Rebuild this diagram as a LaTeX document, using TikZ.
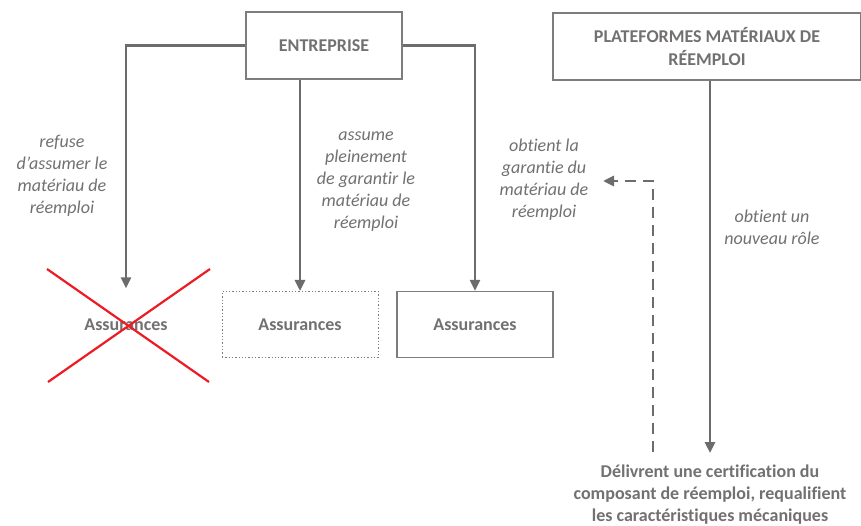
\documentclass[tikz,border=0pt]{standalone}
\usepackage{fontspec}
\setmainfont{Carlito}[Ligatures=NoCommon]
\usetikzlibrary{arrows.meta,positioning}

\definecolor{cline}{RGB}{108,108,108}
\definecolor{ctext}{RGB}{115,112,112}
\definecolor{cbox}{RGB}{125,125,125}
\definecolor{ccross}{RGB}{237,28,36}

\newcommand{\boldtext}{\fontsize{18}{22.5}\selectfont\bfseries}
\newcommand{\labeltext}{\fontsize{18}{22}\selectfont\itshape}

\tikzset{
  actor/.style={draw=cbox,line width=1.3pt,text=ctext,font=\boldtext,
    align=center,inner sep=0pt},
  insurer/.style={actor,minimum width=156pt,minimum height=66pt},
  link/.style={draw=cline,line width=2.6pt,
    -{Triangle[width=10pt,length=11pt]}},
  caption/.style={text=ctext,font=\labeltext,align=center,inner sep=0pt}
}

\begin{document}
\begin{tikzpicture}[x=1pt,y=-1pt]
  \useasboundingbox[fill=white] (0,0) rectangle (861,526);

  % acteurs du haut
  \node[actor,minimum width=156pt,minimum height=67pt] (ent) at (324,45.5) {ENTREPRISE};
  \node[actor,minimum width=308pt,minimum height=67pt] (plat) at (707,46.5)
    {PLATEFORMES MAT\'ERIAUX DE\\R\'EEMPLOI};

  % assurances
  \node[insurer,draw=none] (ass1) at (126,325) {Assurances};
  \node[insurer,dotted,line width=1pt] (ass2) at (300,324.5) {Assurances};
  \node[insurer] (ass3) at (475,324.5) {Assurances};
  \draw[ccross,line width=2.2pt] (47,269) -- (209,382) (48,382) -- (210,269);

  % certification
  \node[text=ctext,font=\fontsize{18}{22}\selectfont\bfseries,align=center,
    anchor=north,inner sep=0pt] (cert) at (710,464.5)
    {D\'elivrent une certification du\\composant de r\'eemploi, requalifient\\les caract\'eristiques m\'ecaniques};

  % libelles
  \node[caption] (refuse) at (62,176) {refuse\\d'assumer le\\mat\'eriau de\\r\'eemploi};
  \node[caption] (assume) at (366,182) {assume\\pleinement\\de garantir le\\mat\'eriau de\\r\'eemploi};
  \node[caption] (garantie) at (544,180) {obtient la\\garantie du\\mat\'eriau de\\r\'eemploi};
  \node[caption] (role) at (772,227) {obtient un\\nouveau r\^ole};

  % liens
  \draw[link] (ent.west) -| ([yshift=3pt]ass1.north);
  \draw[link] (ass2.north |- ent.south) -- (ass2.north);
  \draw[link] (ent.east) -| (ass3.north);
  \draw[link] (cert.north |- plat.south) -- ([yshift=11.5pt]cert.north);

  \coordinate (dstart) at (653,452);
  \coordinate (dend) at (603,181);
  \draw[link,dash pattern=on 11pt off 7pt] (dstart) |- (dend);
\end{tikzpicture}
\end{document}
